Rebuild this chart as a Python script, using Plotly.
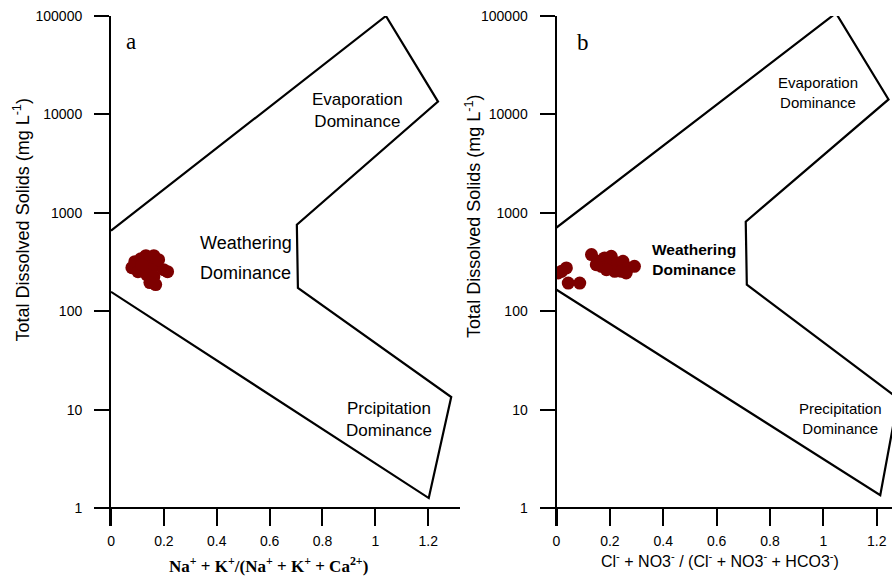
import plotly.graph_objects as go

# ---------------- data ----------------
# Panel a: Na+K/(Na+K+Ca) vs TDS
a_ratio = [0.079, 0.090, 0.113, 0.132, 0.162, 0.143, 0.169, 0.124, 0.154, 0.102,
           0.135, 0.162, 0.199, 0.214, 0.147, 0.169, 0.117, 0.180]
a_tds = [278, 320, 343, 368, 368, 313, 305, 278, 265, 253,
         236, 225, 265, 253, 196, 187, 298, 335]

# Panel b: Cl+NO3/(Cl+NO3+HCO3) vs TDS
b_ratio = [0.019, 0.037, 0.006, 0.044, 0.087, 0.131, 0.156, 0.180, 0.205, 0.168,
           0.199, 0.230, 0.249, 0.218, 0.243, 0.268, 0.292, 0.187, 0.149, 0.261]
b_tds = [255, 276, 246, 194, 194, 377, 322, 349, 362, 287,
         276, 310, 322, 255, 255, 276, 287, 265, 298, 246]

# Gibbs boundary envelopes
a_env_x = [0, 1.04, 1.237, 0.703, 0.707, 1.287, 1.202, 0]
a_env_y = [660, 100000, 13500, 760, 173, 13.5, 1.27, 158]
b_env_x = [0, 1.047, 1.244, 0.709, 0.713, 1.28, 1.213, 0]
b_env_y = [710, 107000, 14200, 815, 187, 13, 1.36, 166]

x_ticks = [0, 0.2, 0.4, 0.6, 0.8, 1.0, 1.2]
x_ticktext = ["0", "0.2", "0.4", "0.6", "0.8", "1", "1.2"]
y_ticks = [1, 10, 100, 1000, 10000, 100000]
y_ticktext = ["1", "10", "100", "1000", "10000", "100000"]

# ---------------- figure ----------------
W, H = 892, 576
T, B = 16, 50
PH = H - T - B
YMIN, YMAX = -0.18, 5.0
xpos = (0 - YMIN) / (YMAX - YMIN)

SANS = "Liberation Sans, Arial, sans-serif"
SERIF = "Liberation Serif, Times New Roman, serif"
DOT = "#7d0000"

fig = go.Figure()
fig.add_trace(go.Scatter(x=a_env_x, y=a_env_y, mode="lines",
                         line=dict(color="black", width=2.2), xaxis="x", yaxis="y",
                         showlegend=False, hoverinfo="skip"))
fig.add_trace(go.Scatter(x=a_ratio, y=a_tds, mode="markers",
                         marker=dict(color=DOT, size=13, line=dict(width=0)),
                         xaxis="x", yaxis="y", showlegend=False))
fig.add_trace(go.Scatter(x=b_env_x, y=b_env_y, mode="lines",
                         line=dict(color="black", width=2.2), xaxis="x2", yaxis="y2",
                         showlegend=False, hoverinfo="skip"))
fig.add_trace(go.Scatter(x=b_ratio, y=b_tds, mode="markers",
                         marker=dict(color=DOT, size=13, line=dict(width=0)),
                         xaxis="x2", yaxis="y2", showlegend=False))

xcommon = dict(anchor="free", position=xpos, showline=True, linewidth=2, linecolor="black",
               ticks="outside", ticklen=17, tickwidth=2, tickcolor="black",
               tickmode="array", tickvals=x_ticks, ticktext=x_ticktext,
               tickfont=dict(family=SANS, size=14, color="black"), ticklabelstandoff=3,
               showgrid=False, zeroline=False)
ycommon = dict(type="log", range=[YMIN, YMAX], domain=[0, 1], showline=True, linewidth=2,
               linecolor="black", ticks="outside", ticklen=15, tickwidth=2, tickcolor="black",
               tickmode="array", tickvals=y_ticks, ticktext=y_ticktext,
               tickfont=dict(family=SANS, size=14, color="black"), ticklabelstandoff=9,
               showgrid=False, zeroline=False)

fig.update_layout(
    width=W, height=H,
    margin=dict(l=0, r=0, t=T, b=B),
    paper_bgcolor="white", plot_bgcolor="white",
    xaxis=dict(domain=[107.5 / W, 458 / W], range=[0, 1.32], **xcommon),
    yaxis=dict(anchor="x", **ycommon),
    xaxis2=dict(domain=[555 / W, 1.0], range=[0, 1.257], **xcommon),
    yaxis2=dict(anchor="x2", **ycommon),
)


def px(p):
    return p / W


def py(p):
    return (H - B - p) / PH


def note(text, x, y, xref, yref, font, angle=0):
    return dict(text=text, x=x, y=y, xref=xref, yref=yref, showarrow=False,
                xanchor="center", yanchor="middle", textangle=angle, font=font)


ann = []
# panel letters
ann.append(note("a", 0.074, 4.74, "x", "y", dict(family=SERIF, size=23, color="black")))
ann.append(note("b", 0.10, 4.73, "x2", "y2", dict(family=SERIF, size=23, color="black")))
# panel a region labels
ann.append(note("Evaporation<br>Dominance", 0.932, 4.045, "x", "y",
                dict(family=SANS, size=17, color="black")))
ann.append(note("Weathering", 0.51, 2.695, "x", "y",
                dict(family=SANS, size=18, color="black")))
ann.append(note("Dominance", 0.51, 2.39, "x", "y",
                dict(family=SANS, size=18, color="black")))
ann.append(note("Prcipitation<br>Dominance", 1.053, 0.898, "x", "y",
                dict(family=SANS, size=17, color="black")))
# panel b region labels
ann.append(note("Evaporation<br>Dominance", 0.981, 4.22, "x2", "y2",
                dict(family=SANS, size=15, color="black")))
ann.append(note("<b>Weathering<br>Dominance</b>", 0.515, 2.53, "x2", "y2",
                dict(family=SANS, size=15.5, color="black")))
ann.append(note("Precipitation<br>Dominance", 1.063, 0.91, "x2", "y2",
                dict(family=SANS, size=15, color="black")))
# axis titles
ytitle = "Total Dissolved Solids (mg L<sup>-1</sup>)"
ann.append(note(ytitle, px(17.5), py(220), "paper", "paper",
                dict(family=SANS, size=18, color="black"), angle=-90))
ann.append(note(ytitle, px(471), py(216), "paper", "paper",
                dict(family=SANS, size=18, color="black"), angle=-90))
ann.append(note("<b>Na<sup>+</sup> + K<sup>+</sup>/(Na<sup>+</sup> + K<sup>+</sup> + Ca<sup>2+</sup>)</b>",
                px(266), py(565), "paper", "paper", dict(family=SERIF, size=17, color="black")))
ann.append(note("Cl<sup>-</sup> + NO3<sup>-</sup> / (Cl<sup>-</sup> + NO3<sup>-</sup> + HCO3<sup>-</sup>)",
                px(719), py(560), "paper", "paper", dict(family=SANS, size=16, color="black")))
fig.update_layout(annotations=ann)

fig.write_html("out.html", config={"displayModeBar": False},
               post_script="document.body.style.margin='0';document.body.style.overflow='hidden';")
